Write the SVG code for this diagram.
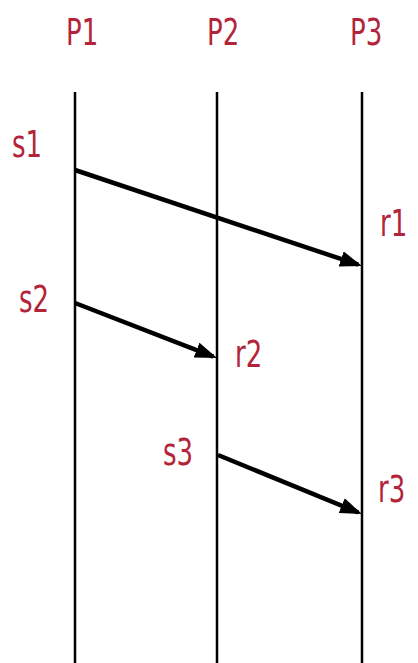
<svg xmlns="http://www.w3.org/2000/svg" width="418" height="663" viewBox="0 0 418 663">
<style>
.lbl{font-family:"DejaVu Sans",sans-serif;font-size:26px;fill:#b3243a}
.life{stroke:#000;stroke-width:2.5}
.msg{stroke:#000;stroke-width:4.5;fill:none}
</style>
<defs>
<marker id="ah" markerUnits="userSpaceOnUse" markerWidth="22" markerHeight="16" refX="18" refY="8" orient="auto">
<path d="M0,0 L22,8 L0,16 z" fill="#000"/>
</marker>
</defs>
<rect width="418" height="663" fill="#fff"/>
<g id="P1"><line class="life" x1="75" y1="92" x2="75" y2="663"/><text class="lbl" transform="translate(66,45) scale(1,1.4)">P1</text></g>
<g id="P2"><line class="life" x1="217" y1="92" x2="217" y2="663"/><text class="lbl" transform="translate(207,45) scale(1,1.4)">P2</text></g>
<g id="P3"><line class="life" x1="362" y1="92" x2="362" y2="663"/><text class="lbl" transform="translate(350,45) scale(1,1.4)">P3</text></g>
<g id="events">
<text class="lbl" transform="translate(12,157) scale(1,1.4)">s1</text>
<text class="lbl" transform="translate(380,236) scale(1,1.4)">r1</text>
<text class="lbl" transform="translate(19,312) scale(1,1.4)">s2</text>
<text class="lbl" transform="translate(235,367) scale(1,1.4)">r2</text>
<text class="lbl" transform="translate(163,465) scale(1,1.4)">s3</text>
<text class="lbl" transform="translate(378,502) scale(1,1.4)">r3</text>
</g>
<g id="connectors">
<line class="msg" x1="75" y1="170" x2="358.2" y2="264.7" marker-end="url(#ah)"/>
<line class="msg" x1="75" y1="303" x2="213.3" y2="356.6" marker-end="url(#ah)"/>
<line class="msg" x1="218" y1="455" x2="358.3" y2="512.5" marker-end="url(#ah)"/>
</g>
</svg>
